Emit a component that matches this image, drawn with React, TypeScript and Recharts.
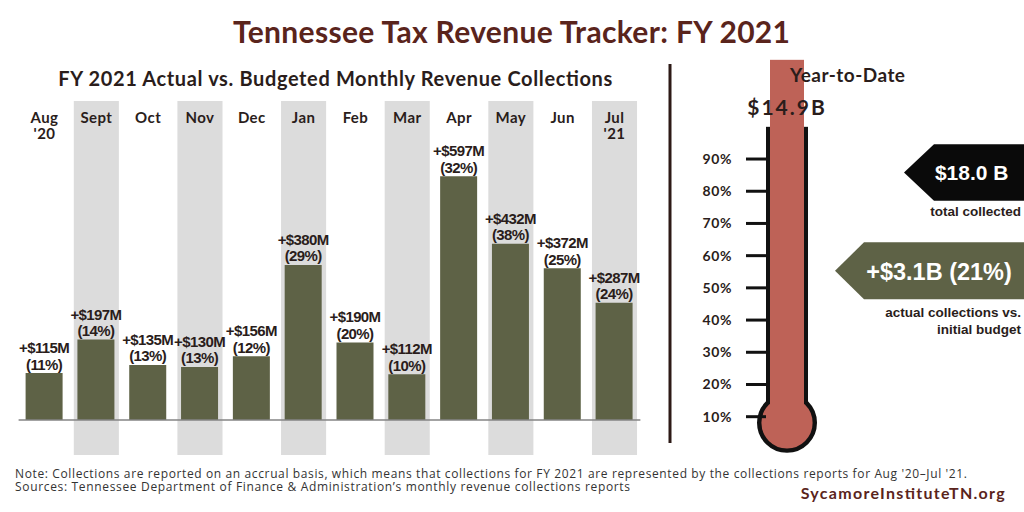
import React from 'react';
import { BarChart, Bar, XAxis, YAxis, ReferenceArea, ReferenceLine, LabelList } from 'recharts';

// ---- data ----
const months = ["Aug '20", 'Sept', 'Oct', 'Nov', 'Dec', 'Jan', 'Feb', 'Mar', 'Apr', 'May', 'Jun', "Jul '21"];
const overBudgetM = [115, 197, 135, 130, 156, 380, 190, 112, 597, 432, 372, 287];
const overBudgetPct = [11, 14, 13, 13, 12, 29, 20, 10, 32, 38, 25, 24];
const shadedMonths = ['Sept', 'Nov', 'Jan', 'Mar', 'May', "Jul '21"];

const thermoTicks = [10, 20, 30, 40, 50, 60, 70, 80, 90];
const ytdPctOfBudget = [120.8];
const budgetLabel = '$14.9B';
const totalCollected = '$18.0 B';
const diffLabel = '+$3.1B (21%)';

const title = 'Tennessee Tax Revenue Tracker: FY 2021';
const subtitle = 'FY 2021 Actual vs. Budgeted Monthly Revenue Collections';
const note1 = "Note: Collections are reported on an accrual basis, which means that collections for FY 2021 are represented by the collections reports for Aug '20\u2013Jul '21.";
const note2 = 'Sources: Tennessee Department of Finance & Administration\u2019s monthly revenue collections reports';
const brand = 'SycamoreInstituteTN.org';

// ---- styles ----
const OLIVE = '#5e6246';
const BAND = '#dcdcdc';
const MAROON = '#5a241c';
const DARK = '#2a1d1b';
const RED = '#be6257';

const data = months.map((m, i) => ({
  month: m,
  value: overBudgetM[i],
  label: `${overBudgetM[i]}|${overBudgetPct[i]}`,
}));

const thermoData = ytdPctOfBudget.map((v) => ({ name: 'YTD', ytd: v }));

const MonthTick = (props: any) => {
  const { x, y, payload } = props;
  const parts = String(payload.value).split(' ');
  return (
    <g>
      {parts.map((p: string, i: number) => (
        <text
          key={i}
          x={x}
          y={y + 22 + i * 16}
          textAnchor="middle"
          fontFamily="Lato, 'DejaVu Sans', sans-serif"
          fontWeight={700}
          fontSize={15}
          letterSpacing={0.4}
          fill={DARK}
        >
          {p}
        </text>
      ))}
    </g>
  );
};

const ValueLabel = (props: any) => {
  const vb = props.viewBox || props;
  const x = vb.x ?? props.x;
  const y = vb.y ?? props.y;
  const width = vb.width ?? props.width;
  const [m, p] = String(props.value).split('|');
  const cx = x + width / 2;
  const common = {
    textAnchor: 'middle' as const,
    fontFamily: "'Liberation Sans', Arial, sans-serif",
    fontWeight: 700,
    fontSize: 15,
    letterSpacing: -0.6,
    fill: DARK,
  };
  return (
    <g>
      <text x={cx} y={y - 20} {...common}>{`+$${m}M`}</text>
      <text x={cx} y={y - 3.5} {...common}>{`(${p}%)`}</text>
    </g>
  );
};

const BandShape = (props: any) => {
  const { x, y, width, height } = props;
  const w = width * 0.87;
  return <rect x={x + (width - w) / 2} y={y} width={w} height={height} fill={BAND} />;
};

const ThermoShape = (props: any) => {
  const { x, y, width, height, payload } = props;
  const bottom = y + height;
  const pxPerPct = height / payload.ytd;
  const y100 = bottom - 100 * pxPerPct;
  const cy = bottom - 8.1 * pxPerPct;
  const cx = x + width / 2;
  return (
    <g>
      <rect x={x - 4} y={y100} width={4} height={cy - y100} fill="#111" />
      <rect x={x + width} y={y100} width={4} height={cy - y100} fill="#111" />
      <circle cx={cx} cy={cy} r={27.8} fill={RED} stroke="#111" strokeWidth={4.4} />
      <rect x={x} y={y} width={width} height={cy - y} fill={RED} />
    </g>
  );
};

export default function App() {
  return (
    <div style={{ position: 'absolute', left: 0, top: 0, width: 1024, height: 512, background: '#fff', overflow: 'hidden' }}>
      <div style={{ position: 'absolute', left: 0, top: 0 }}>
        <BarChart width={660} height={512} data={data} margin={{ top: 71, right: 19.6, bottom: 57, left: 18.6 }}>
          <XAxis
            dataKey="month"
            orientation="top"
            height={30}
            axisLine={false}
            tickLine={false}
            tickSize={0}
            tickMargin={0}
            interval={0}
            tick={<MonthTick />}
          />
          <YAxis hide domain={[-85.8, 781.5]} type="number" />
          {shadedMonths.map((m) => (
            <ReferenceArea key={m} x1={m} x2={m} fill={BAND} fillOpacity={1} stroke="none" shape={<BandShape />} ifOverflow="visible" />
          ))}
          <ReferenceLine y={0} stroke="#858585" strokeWidth={1.5} />
          <Bar dataKey="value" fill={OLIVE} barSize={37} isAnimationActive={false}>
            <LabelList dataKey="label" content={<ValueLabel />} />
          </Bar>
        </BarChart>
      </div>

      <div style={{ position: 'absolute', left: 680, top: 0 }}>
        <BarChart
          width={168}
          height={512}
          data={thermoData}
          margin={{ top: 30.2, right: 40, bottom: 63.1, left: 0 }}
          style={{ overflow: 'visible' }}
        >
          <XAxis dataKey="name" hide />
          <YAxis
            type="number"
            domain={[0, 130]}
            ticks={thermoTicks}
            width={86}
            axisLine={false}
            tickLine={{ stroke: '#111', strokeWidth: 3 }}
            tickSize={20}
            tickMargin={14}
            tickFormatter={(v: number) => `${v}%`}
            tick={{ fontFamily: "Lato, 'DejaVu Sans', sans-serif", fontWeight: 700, fontSize: 14, fill: DARK, letterSpacing: 0.6 }}
          />
          <Bar dataKey="ytd" barSize={34} isAnimationActive={false} shape={<ThermoShape />} />
          <ReferenceLine
            y={100}
            stroke="none"
            ifOverflow="visible"
            label={{
              value: budgetLabel,
              position: 'top',
              offset: 12,
              fill: DARK,
              fontSize: 21,
              fontWeight: 700,
              fontFamily: "Lato, 'DejaVu Sans', sans-serif",
              letterSpacing: 2,
            }}
          />
        </BarChart>
      </div>

      <svg width={1024} height={512} style={{ position: 'absolute', left: 0, top: 0, pointerEvents: 'none' }}>
        <text x={233} y={43.3} fontFamily="Lato, 'DejaVu Sans', sans-serif" fontWeight={700} fontSize={30} fill={MAROON} textLength={557}>
          {title}
        </text>
        <text x={58.3} y={86} fontFamily="Lato, 'DejaVu Sans', sans-serif" fontWeight={700} fontSize={20} fill={DARK} textLength={554}>
          {subtitle}
        </text>
        <line x1={670} y1={64} x2={670} y2={443} stroke="#2d1a16" strokeWidth={3} />

        <text x={847.5} y={82} textAnchor="middle" fontFamily="Lato, 'DejaVu Sans', sans-serif" fontWeight={700} fontSize={19} fill={DARK} textLength={115}>
          Year-to-Date
        </text>

        <polygon points="934,144.3 1024,144.3 1024,200.7 934,200.7 904,172.5" fill="#0a0a0a" />
        <text x={971.7} y={180} textAnchor="middle" fontFamily="'Liberation Sans', Arial, sans-serif" fontWeight={700} fontSize={21} fill="#fff">
          {totalCollected}
        </text>
        <text x={1021} y={215.7} textAnchor="end" fontFamily="'Liberation Sans', Arial, sans-serif" fontWeight={700} fontSize={13.5} fill={DARK}>
          total collected
        </text>

        <polygon points="864,242.3 1024,242.3 1024,299.3 864,299.3 835,270.8" fill={OLIVE} />
        <text x={939} y={280} textAnchor="middle" fontFamily="'Liberation Sans', Arial, sans-serif" fontWeight={700} fontSize={23.5} fill="#fff">
          {diffLabel}
        </text>
        <text x={1021} y={316.7} textAnchor="end" fontFamily="'Liberation Sans', Arial, sans-serif" fontWeight={700} fontSize={13.5} fill={DARK}>
          actual collections vs.
        </text>
        <text x={1021} y={334} textAnchor="end" fontFamily="'Liberation Sans', Arial, sans-serif" fontWeight={700} fontSize={13.5} fill={DARK}>
          initial budget
        </text>

        <text x={15} y={477.6} fontFamily="'Open Sans', sans-serif" fontSize={12} fill="#333" textLength={952}>
          {note1}
        </text>
        <text x={15} y={490.8} fontFamily="'Open Sans', sans-serif" fontSize={12} fill="#333" textLength={615}>
          {note2}
        </text>
        <text x={800.7} y={499.3} fontFamily="Lato, 'DejaVu Sans', sans-serif" fontWeight={700} fontSize={16} fill={MAROON} textLength={204}>
          {brand}
        </text>
      </svg>
    </div>
  );
}
